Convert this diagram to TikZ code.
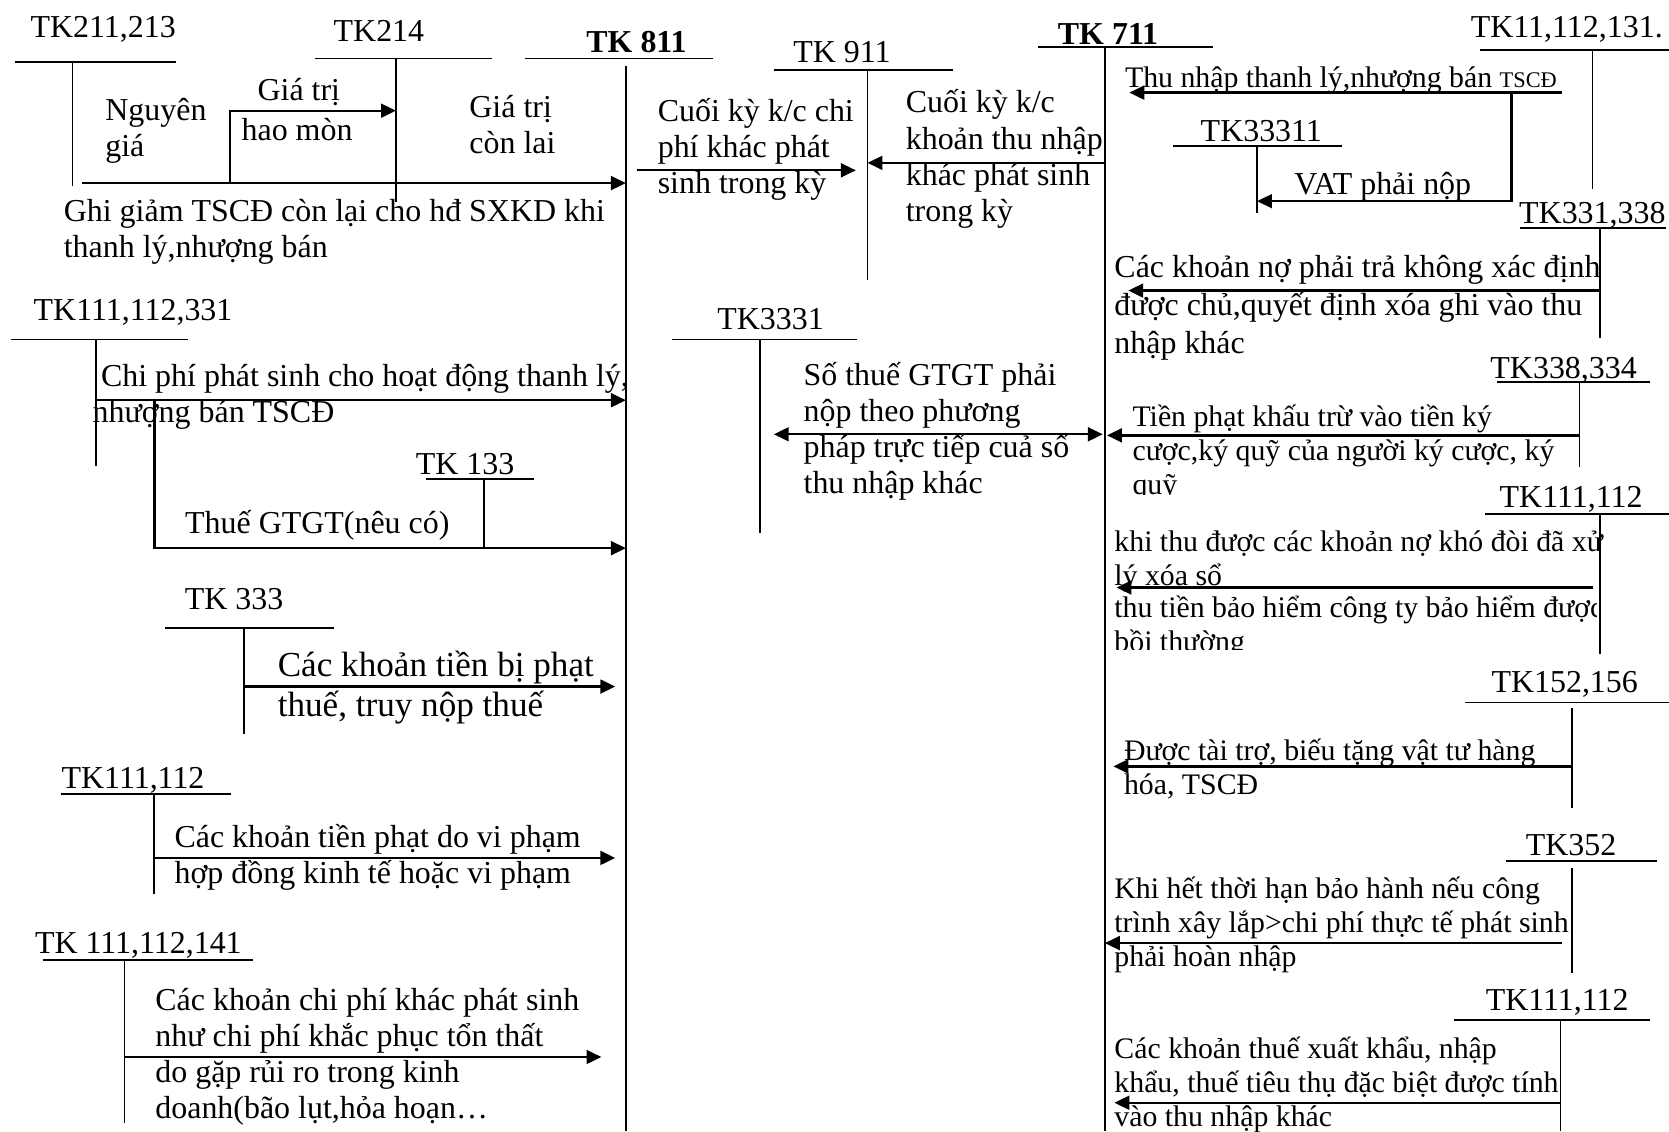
\documentclass[tikz,border=0pt]{standalone}
\usepackage{fontspec}
\setmainfont{Liberation Serif}
\usetikzlibrary{arrows.meta}

\tikzset{
  every node/.style={inner sep=0pt, outer sep=0pt},
  tline/.style={line width=1.6pt},
  flow/.style={line width=2.2pt, -{Triangle[length=14pt,width=13pt]}},
  twoway/.style={line width=2.2pt, {Triangle[length=14pt,width=13pt]}-{Triangle[length=14pt,width=13pt]}},
  lbl/.style={anchor=base, font=\fontsize{30}{34}\selectfont},
  txt/.style={anchor=base west, font=\fontsize{30}{34}\selectfont,
    execute at begin node={\lineskiplimit=-100pt\lineskip=0pt\relax}},
  rtxt/.style={txt, font=\fontsize{28}{32}\selectfont},
  btxt/.style={txt, font=\fontsize{33}{37}\selectfont},
}

% T-account: name, label, label base point, bar x1, bar x2, bar y, stem x, stem y1, stem y2
\newcommand\tacc[9]{%
  \node[lbl] (#1) at (#3) {#2};
  \coordinate (#1-l) at (#4,#6);
  \coordinate (#1-r) at (#5,#6);
  \coordinate (#1-t) at (#7,#8);
  \coordinate (#1-b) at (#7,#9);
  \draw[tline] (#1-l) -- (#1-r);
  \draw[tline] (#1-t) -- (#1-b);}

\begin{document}
\begin{tikzpicture}[x=1pt,y=-1pt]
\useasboundingbox (0,0) rectangle (1568,1063);

% ---------- accounts ----------
\tacc{k211}{TK211,213}{97,35}{14}{165}{58}{68}{58}{175}
\tacc{k214}{TK214}{356,39}{296}{462}{55}{372}{55}{190}
\tacc{k811}{\bfseries TK 811}{598,49}{493}{670}{55}{588}{62}{1063}
\tacc{k911}{TK 911}{791,59}{727}{895}{66}{815}{66}{263}
\tacc{k711}{\bfseries TK 711}{1041,42}{975}{1140}{44}{1038}{44}{1063}
\tacc{k11}{TK11,112,131.}{1472,35}{1390}{1568}{47}{1496}{47}{178}
\tacc{k33311}{TK33311}{1185,133}{1102}{1261}{137}{1181}{137}{200}
\tacc{k331}{TK331,338}{1496,210}{1428}{1565}{214}{1503}{214}{318}
\tacc{k111a}{TK111,112,331}{125,301}{10}{177}{319}{90}{319}{438}
\tacc{k133}{TK 133}{437,446}{400}{502}{450}{455}{450}{515}
\tacc{k3331}{TK3331}{724,310}{631}{805}{319}{714}{319}{501}
\tacc{k333}{TK 333}{220,573}{155}{314}{590}{229}{590}{690}
\tacc{k111b}{TK111,112}{125,741}{57}{217}{746}{145}{746}{840}
\tacc{k111c}{TK 111,112,141}{130,896}{40}{238}{902}{117}{902}{1055}
\tacc{k338}{TK338,334}{1469,356}{1406}{1550}{359}{1484}{359}{439}
\tacc{k111d}{TK111,112}{1476,477}{1395}{1568}{483}{1503}{483}{614}
\tacc{k152}{TK152,156}{1470,651}{1376}{1568}{660}{1477}{665}{759}
\tacc{k352}{TK352}{1476,804}{1415}{1557}{809}{1477}{815}{914}
\tacc{k111e}{TK111,112}{1463,949}{1366}{1550}{958}{1466}{958}{1063}

% ---------- left side: TK 811 ----------
\node[txt] (ng) at (99,113) {\vtop{\hbox{Nguyên}\hbox{giá}}};
\node[txt, font=\fontsize{30}{38}\selectfont] (hmt) at (227,94) {\vtop{\hbox{\hspace*{15pt}Giá trị}\hbox{hao mòn}}};
\node[txt] (gtcl) at (441,110) {\vtop{\hbox{Giá trị}\hbox{còn lai}}};
\node[txt] (ghi) at (60,208) {\vtop{\hbox{Ghi giảm TSCĐ còn lại cho hđ SXKD khi}\hbox{thanh lý,nhượng bán}}};

\coordinate (gg) at (77,172);
\draw[flow] (gg) -- (gg -| k811-t);
\coordinate (hm) at (216,172);
\coordinate (hmc) at (216,104);
\draw[flow] (hm) -- (hmc) -- (hmc -| k214-t);

\node[txt] (chiphi) at (95,363) {\vtop{\hbox{Chi phí phát sinh cho hoạt động thanh lý,}\hbox{\hspace*{-8pt}nhượng bán TSCĐ}}};
\coordinate (cp) at (90,376);
\draw[flow] (cp) -- (cp -| k811-t);
\coordinate (gt) at (145,376);
\coordinate (gtc) at (145,515);
\draw[flow] (gt) -- (gtc) -- (gtc -| k811-t);
\node[txt] (gtgt) at (174,501) {Thuế GTGT(nêu có)};

\node[btxt] (phat) at (261,636) {\vtop{\hbox{Các khoản tiền bị phạt}\hbox{thuế, truy nộp thuế}}};
\coordinate (ph) at (229,645);
\coordinate (phe) at (578,645);
\draw[flow] (ph) -- (phe);

\node[txt] (vip) at (164,796) {\vtop{\hbox{Các khoản tiền phạt do vi phạm}\hbox{hợp đồng kinh tế hoặc vi phạm}}};
\coordinate (vp) at (145,806);
\coordinate (vpe) at (578,806);
\draw[flow] (vp) -- (vpe);

\node[txt] (cpk) at (146,949) {\vtop{\hbox{Các khoản chi phí khác phát sinh}\hbox{như chi phí khắc phục tổn thất}\hbox{do gặp rủi ro trong kinh}\hbox{doanh(bão lụt,hỏa hoạn…}}};
\coordinate (ck) at (117,993);
\coordinate (cke) at (565,993);
\draw[flow] (ck) -- (cke);

% ---------- closing entries: TK 911 ----------
\node[txt] (kc1) at (618,114) {\vtop{\hbox{Cuối kỳ k/c chi}\hbox{phí khác phát}\hbox{sinh trong kỳ}}};
\coordinate (c1) at (598,160);
\coordinate (c1e) at (804,160);
\draw[flow] (c1) -- (c1e);
\node[txt] (kc2) at (851,106) {\vtop{\hbox{Cuối kỳ k/c}\hbox{khoản thu nhập}\hbox{khác phát sinh}\hbox{trong kỳ}}};
\coordinate (c2) at (1038,153);
\draw[flow] (c2) -- (c2 -| k911-t);

% ---------- VAT, direct method ----------
\node[txt] (sothue) at (755,362) {\vtop{\hbox{Số thuế GTGT phải}\hbox{nộp theo phương}\hbox{pháp trực tiếp cuả số}\hbox{thu nhập khác}}};
\coordinate (st1) at (727,408);
\coordinate (st2) at (1036,408);
\draw[twoway] (st1) -- (st2);

% ---------- right side: TK 711 ----------
\node[rtxt] (tn) at (1057,82) {Thu nhập thanh lý,nhượng bán {\fontsize{21}{25}\selectfont TSCĐ}};
\coordinate (tns) at (1467,87);
\coordinate (tne) at (1061,87);
\draw[flow] (tns) -- (tne);
\coordinate (vt) at (1420,87);
\coordinate (vtc) at (1420,189);
\draw[flow] (vt) -- (vtc) -- (vtc -| k33311-t);
\node[txt] (vat) at (1216,183) {VAT phải nộp};

\node[txt, font=\fontsize{30}{35.5}\selectfont] (nophai) at (1047,261) {\vtop{\hbox{Các khoản nợ phải trả không xác định}\hbox{được chủ,quyết định xóa ghi vào thu}\hbox{nhập khác}}};
\coordinate (np) at (1503,273);
\coordinate (npe) at (1060,273);
\draw[flow] (np) -- (npe);

\begin{scope}
  \clip (1040,370) rectangle (1480,465);
  \node[rtxt] (tp) at (1064,401) {\vtop{\hbox{Tiền phạt khấu trừ vào tiền ký}\hbox{cược,ký quỹ của người ký cược, ký}\hbox{quỹ}}};
\end{scope}
\coordinate (tps) at (1484,409);
\coordinate (tpe) at (1040,409);
\draw[flow] (tps) -- (tpe);

\node[rtxt] (kd) at (1047,518) {\vtop{\hbox{khi thu được các khoản nợ khó đòi đã xử}\hbox{lý xóa sổ}}};
\coordinate (kds) at (1497,552);
\coordinate (kde) at (1049,552);
\draw[flow] (kds) -- (kde);
\begin{scope}
  \clip (1040,555) rectangle (1500,610);
  \node[rtxt] (bh) at (1047,580) {\vtop{\hbox{thu tiền bảo hiểm công ty bảo hiểm được}\hbox{bồi thường}}};
\end{scope}

\node[rtxt] (tt) at (1056,714) {\vtop{\hbox{Được tài trợ, biếu tặng vật tư hàng}\hbox{hóa, TSCĐ}}};
\coordinate (tts) at (1477,720);
\coordinate (tte) at (1046,720);
\draw[flow] (tts) -- (tte);

\node[rtxt] (bhanh) at (1047,844) {\vtop{\hbox{Khi hết thời hạn bảo hành nếu công}\hbox{trình xây lắp>chi phí thực tế phát sinh}\hbox{phải hoàn nhập}}};
\coordinate (bhs) at (1467,886);
\coordinate (bhe) at (1038,886);
\draw[flow] (bhs) -- (bhe);

\node[rtxt] (xk) at (1047,994) {\vtop{\hbox{Các khoản thuế xuất khẩu, nhập}\hbox{khẩu, thuế tiêu thụ đặc biệt được tính}\hbox{vào thu nhập khác}}};
\coordinate (xks) at (1466,1036);
\coordinate (xke) at (1047,1036);
\draw[flow] (xks) -- (xke);
\end{tikzpicture}
\end{document}
